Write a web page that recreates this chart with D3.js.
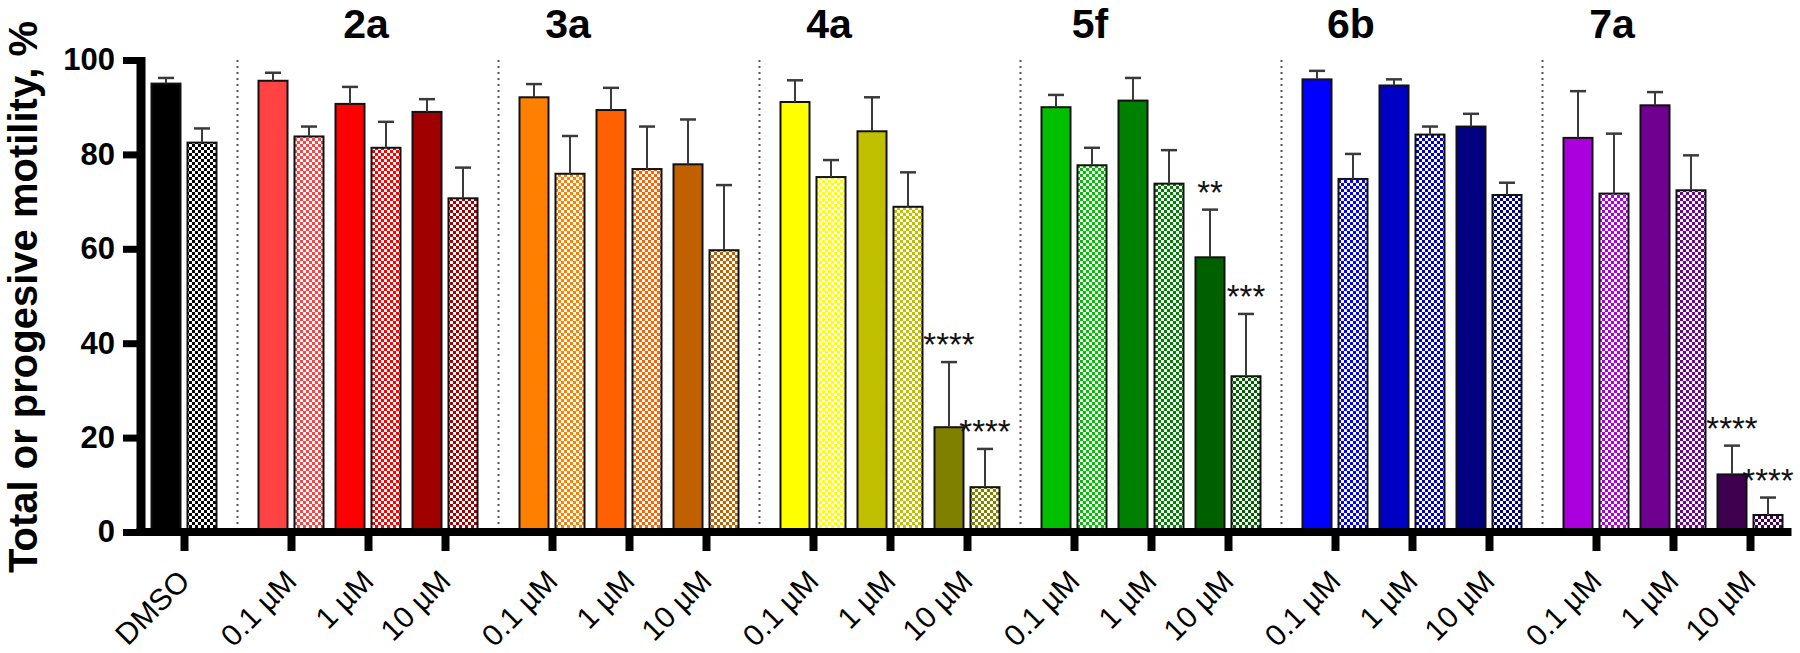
<!DOCTYPE html>
<html><head><meta charset="utf-8">
<script src="https://cdn.jsdelivr.net/npm/d3@7"></script>
<style>
body{margin:0;background:#fff}
svg{display:block}
text{font-family:"Liberation Sans",Arial,Helvetica,sans-serif}
</style>
</head><body>
<svg id="c" width="1800" height="653"></svg>
<script>
// ---------------- DATA ----------------
const groups = ["DMSO", "2a", "3a", "4a", "5f", "6b", "7a"];
const doses = ["0.1 µM", "1 µM", "10 µM"];
// one entry per pair of bars (DMSO, then 3 doses for each compound)
const pairGroup = [0, 1,1,1, 2,2,2, 3,3,3, 4,4,4, 5,5,5, 6,6,6];
const pairTick  = ["DMSO"].concat(...groups.slice(1).map(() => doses));
// total motility (solid bars) and SEM
const totalMotility = [95.0, 95.6,90.7,89.0, 92.1,89.4,77.9, 91.1,84.9,22.2, 90.0,91.4,58.2, 95.9,94.6,85.9, 83.5,90.4,12.2];
const totalErr      = [1.2,  1.7,3.6,2.7,   2.8,4.7,9.5,    4.6,7.2,13.8,   2.6,4.8,10.1,   1.8,1.3,2.7,    9.9,2.8,6.1];
// progressive motility (checkered bars) and SEM
const progMotility  = [82.5, 83.8,81.4,70.7, 75.9,76.9,59.7, 75.2,68.9,9.5, 77.7,73.8,33.0, 74.8,84.2,71.4, 71.7,72.4,3.6];
const progErr       = [3.0,  2.1,5.5,6.5,   8.0,9.0,13.8,   3.6,7.3,8.1,    3.7,7.1,13.2,   5.3,1.7,2.6,    12.7,7.4,3.7];
const totalSig = ["", "","","", "","","", "","","****", "","","**", "","","", "","","****"];
const progSig  = ["", "","","", "","","", "","","****", "","","***", "","","", "","","****"];
const yTicks = [0, 20, 40, 60, 80, 100];
const yTitle = "Total or progesive motility, %";

// ---------------- STYLE / LAYOUT ----------------
const pairColors = ["#000000",
  "#ff4242","#ff0000","#a00000",
  "#ff8000","#ff6000","#c06000",
  "#ffff00","#c0c000","#808000",
  "#00c000","#008000","#006000",
  "#0000ff","#0000c4","#000080",
  "#aa00dd","#700090","#3f0050"];
const FONT_BOLD = 700;
const svg = d3.select("#c");
const defs = svg.append("defs");

const GAP = 30 / 77; // extra space between groups, in pair units
const vpos = pairTick.map((d, i) => i + pairGroup[i] * GAP);
const x = d3.scaleLinear().domain([0, vpos[vpos.length - 1]]).range([184, 1750]);
const sub = d3.scaleBand().domain(["total", "prog"]).range([-32.5, 32.5]).paddingInner(0.1944).paddingOuter(0);
const bw = sub.bandwidth();
const y = d3.scaleLinear().domain([0, 100]).range([532, 60]);

// checker patterns
pairColors.forEach((c, i) => {
  const p = defs.append("pattern").attr("id", "chk" + i)
    .attr("width", 6).attr("height", 6).attr("patternUnits", "userSpaceOnUse");
  p.append("rect").attr("width", 6).attr("height", 6).attr("fill", "#fff");
  p.append("rect").attr("width", 3).attr("height", 3).attr("fill", c);
  p.append("rect").attr("x", 3).attr("y", 3).attr("width", 3).attr("height", 3).attr("fill", c);
});

// group separators (dotted)
for (let gi = 1; gi < groups.length; gi++) {
  const firstIdx = pairGroup.indexOf(gi);
  const prevIdx = firstIdx - 1;
  const sx = ((x(vpos[prevIdx]) + sub("prog") + bw) + (x(vpos[firstIdx]) + sub("total"))) / 2;
  svg.append("line").attr("x1", sx).attr("x2", sx).attr("y1", y(100)).attr("y2", y(0))
    .attr("stroke", "#555").attr("stroke-width", 2).attr("stroke-dasharray", "2,4");
}

// bars
const series = [
  {key: "total", vals: totalMotility, errs: totalErr, sig: totalSig},
  {key: "prog", vals: progMotility, errs: progErr, sig: progSig}
];
series.forEach(s => {
  const g = svg.append("g");
  s.vals.forEach((v, i) => {
    const bx = x(vpos[i]) + sub(s.key);
    g.append("rect").attr("x", bx).attr("y", y(v)).attr("width", bw).attr("height", y(0) - y(v))
      .attr("fill", s.key === "total" ? pairColors[i] : `url(#chk${i})`)
      .attr("stroke", "#111").attr("stroke-width", 2);
    const cx = bx + bw / 2;
    const top = y(v + s.errs[i]);
    g.append("line").attr("x1", cx).attr("x2", cx).attr("y1", y(v)).attr("y2", top)
      .attr("stroke", "#3a3a3a").attr("stroke-width", 2);
    g.append("line").attr("x1", cx - 8).attr("x2", cx + 8).attr("y1", top).attr("y2", top)
      .attr("stroke", "#3a3a3a").attr("stroke-width", 2.5);
    if (s.sig[i]) {
      g.append("text").attr("x", cx).attr("y", top - 6).attr("text-anchor", "middle")
        .attr("font-size", 33).attr("fill", "#111").text(s.sig[i]);
    }
  });
});

// group labels
const labelShift = {"2a": 75};
groups.slice(1).forEach((gname, k) => {
  const gi = k + 1;
  const firstIdx = pairGroup.indexOf(gi);
  const lx = x(vpos[firstIdx]) + (labelShift[gname] !== undefined ? labelShift[gname] : 16);
  svg.append("text").attr("x", lx).attr("y", 38).attr("text-anchor", "middle")
    .attr("font-size", 41).attr("font-weight", FONT_BOLD).attr("fill", "#000").text(gname);
});

// y axis
const yAxis = d3.axisLeft(y).tickValues(yTicks).tickSize(18).tickPadding(8).tickSizeOuter(0);
const gy = svg.append("g").attr("transform", "translate(141,0)").call(yAxis);
gy.select(".domain").attr("stroke", "#000").attr("stroke-width", 9).attr("d", `M0,${y(100) - 3}V${y(0)}`);
gy.selectAll(".tick line").attr("stroke", "#000").attr("stroke-width", 7);
gy.selectAll(".tick text").attr("font-size", 31).attr("font-weight", FONT_BOLD).attr("fill", "#000")
  .attr("font-family", "'Liberation Sans',Arial,sans-serif");

// x axis
const ids = pairTick.map((d, i) => String(i));
const xo = d3.scaleOrdinal().domain(ids).range(vpos.map(v => x(v)));
const xAxis = d3.axisBottom(xo).tickSize(19).tickSizeOuter(0).tickFormat(id => pairTick[+id]);
const gx = svg.append("g").attr("transform", `translate(0,${y(0)})`).call(xAxis);
gx.select(".domain").remove();
gx.selectAll(".tick line").attr("stroke", "#000").attr("stroke-width", 8);
gx.selectAll(".tick text").attr("y", null).attr("dy", null)
  .attr("transform", "translate(7,51) rotate(-45)").attr("text-anchor", "end")
  .attr("font-size", 30).attr("fill", "#000").attr("font-family", "'Liberation Sans',Arial,sans-serif");
const lastRight = x(vpos[vpos.length - 1]) + sub("prog") + bw;
svg.append("line").attr("x1", 141 - 4.5).attr("x2", lastRight + 9).attr("y1", y(0)).attr("y2", y(0))
  .attr("stroke", "#000").attr("stroke-width", 8);

// y title
svg.append("text").attr("transform", `translate(37,${297}) rotate(-90)`).attr("text-anchor", "middle")
  .attr("font-size", 40).attr("font-weight", FONT_BOLD).attr("fill", "#000").text(yTitle);
</script>
</body></html>
